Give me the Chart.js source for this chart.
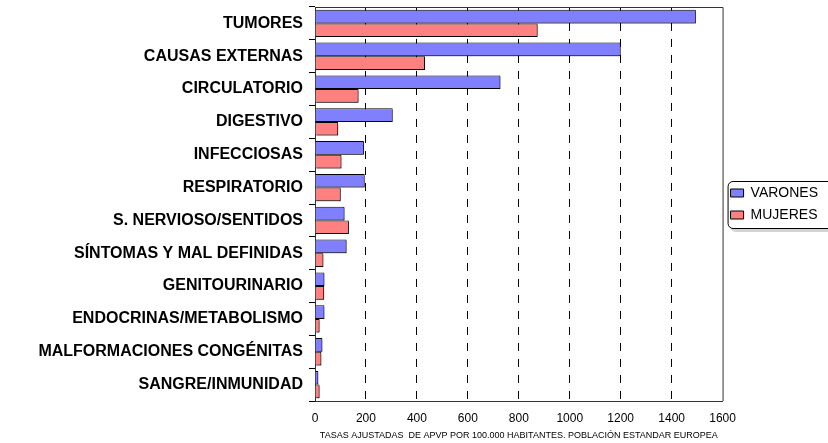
<!DOCTYPE html>
<html>
<head>
<meta charset="utf-8">
<script src="https://cdn.jsdelivr.net/npm/chart.js@4/dist/chart.umd.min.js"></script>
<style>
  html, body { margin: 0; padding: 0; background: #fff; }
  #wrap { width: 828px; height: 443px; }
</style>
</head>
<body>
<div id="wrap"><canvas id="chart"></canvas></div>
<script>
var categorias = ["TUMORES", "CAUSAS EXTERNAS", "CIRCULATORIO", "DIGESTIVO", "INFECCIOSAS",
  "RESPIRATORIO", "S. NERVIOSO/SENTIDOS", "SÍNTOMAS Y MAL DEFINIDAS", "GENITOURINARIO",
  "ENDOCRINAS/METABOLISMO", "MALFORMACIONES CONGÉNITAS", "SANGRE/INMUNIDAD"];
var varones = [1495, 1200, 728, 305, 192, 195, 116, 124, 37, 37, 29, 13];
var mujeres = [874, 432, 171, 91, 104, 101, 133, 33, 36, 18, 25, 18];
var ticksX = [0, 200, 400, 600, 800, 1000, 1200, 1400, 1600];
var tituloX = "TASAS AJUSTADAS  DE APVP POR 100.000 HABITANTES. POBLACIÓN ESTANDAR EUROPEA";

// marco del area de trazado y recuadro de la leyenda
var marco = {
  id: 'marco',
  beforeDraw: function (chart) {
    var ctx = chart.ctx;
    var hb = chart.legend && chart.legend.legendHitBoxes;
    if (!hb || !hb.length) return;
    var x = hb[0].left - 3, y = hb[0].top - 5;
    var last = hb[hb.length - 1];
    var h = last.top + last.height + 6 - y;
    var w = chart.width + 10 - x;
    ctx.save();
    ctx.fillStyle = '#d4d4d4';
    ctx.beginPath(); ctx.roundRect(x + 3, y + 4, w, h, 5); ctx.fill();
    ctx.fillStyle = '#fff';
    ctx.strokeStyle = '#000';
    ctx.lineWidth = 1;
    ctx.beginPath(); ctx.roundRect(x + 0.5, y + 0.5, w, h, 5); ctx.fill(); ctx.stroke();
    ctx.restore();
  },
  beforeDatasetsDraw: function (chart) {
    var a = chart.chartArea, ctx = chart.ctx;
    ctx.save();
    ctx.strokeStyle = '#333';
    ctx.lineWidth = 1;
    ctx.beginPath();
    ctx.moveTo(a.left, a.top + 0.5); ctx.lineTo(a.right + 0.5, a.top + 0.5); ctx.lineTo(a.right + 0.5, a.bottom);
    ctx.stroke();
    ctx.restore();
    ctx.save();
    ctx.shadowColor = 'rgba(0,0,0,0.35)';
    ctx.shadowOffsetX = 1.5;
    ctx.shadowOffsetY = 1.5;
  },
  afterDatasetsDraw: function (chart) {
    chart.ctx.restore();
  }
};

new Chart(document.getElementById('chart'), {
  type: 'bar',
  data: {
    labels: categorias,
    datasets: [{
      label: 'VARONES',
      data: varones,
      backgroundColor: '#8080ff',
      borderColor: '#000',
      borderWidth: 1,
      categoryPercentage: 0.83,
      barPercentage: 1
    }, {
      label: 'MUJERES',
      data: mujeres,
      backgroundColor: '#ff8080',
      borderColor: '#000',
      borderWidth: 1,
      categoryPercentage: 0.83,
      barPercentage: 1
    }]
  },
  options: {
    indexAxis: 'y',
    responsive: true,
    maintainAspectRatio: false,
    animation: false,
    layout: { padding: { top: 7, right: 0, left: 0, bottom: 0 } },
    plugins: {
      tooltip: { enabled: false },
      legend: {
        position: 'right',
        fullSize: false,
        labels: {
          boxWidth: 13,
          boxHeight: 8,
          padding: 8,
          color: '#000',
          font: { family: 'Liberation Sans', size: 14 }
        }
      }
    },
    scales: {
      x: {
        min: ticksX[0],
        max: ticksX[ticksX.length - 1],
        afterFit: function (s) { s.height = 42; },
        ticks: {
          stepSize: 200,
          padding: 10,
          color: '#000',
          font: { family: 'Liberation Sans', size: 12 },
          callback: function (v) { return String(v); }
        },
        grid: {
          drawTicks: false,
          color: function (c) {
            if (c.tick && (c.tick.value === ticksX[0] || c.tick.value === ticksX[ticksX.length - 1])) return 'rgba(0,0,0,0)';
            return '#000';
          }
        },
        border: { color: '#333', dash: [8, 8] },
        title: {
          display: true,
          text: tituloX,
          color: '#000',
          padding: { top: 0, bottom: 2 },
          font: { family: 'Liberation Sans', size: 9 }
        }
      },
      y: {
        afterFit: function (s) {
          s.width = 315;
          s.paddingTop = 0;
          s.paddingBottom = 0;
        },
        ticks: {
          padding: 6,
          color: '#000',
          font: { family: 'Liberation Sans', size: 16, weight: 'bold' }
        },
        grid: { drawOnChartArea: false, tickLength: 6, color: '#000' },
        border: { color: '#333' }
      }
    }
  },
  plugins: [marco]
});
</script>
</body>
</html>
